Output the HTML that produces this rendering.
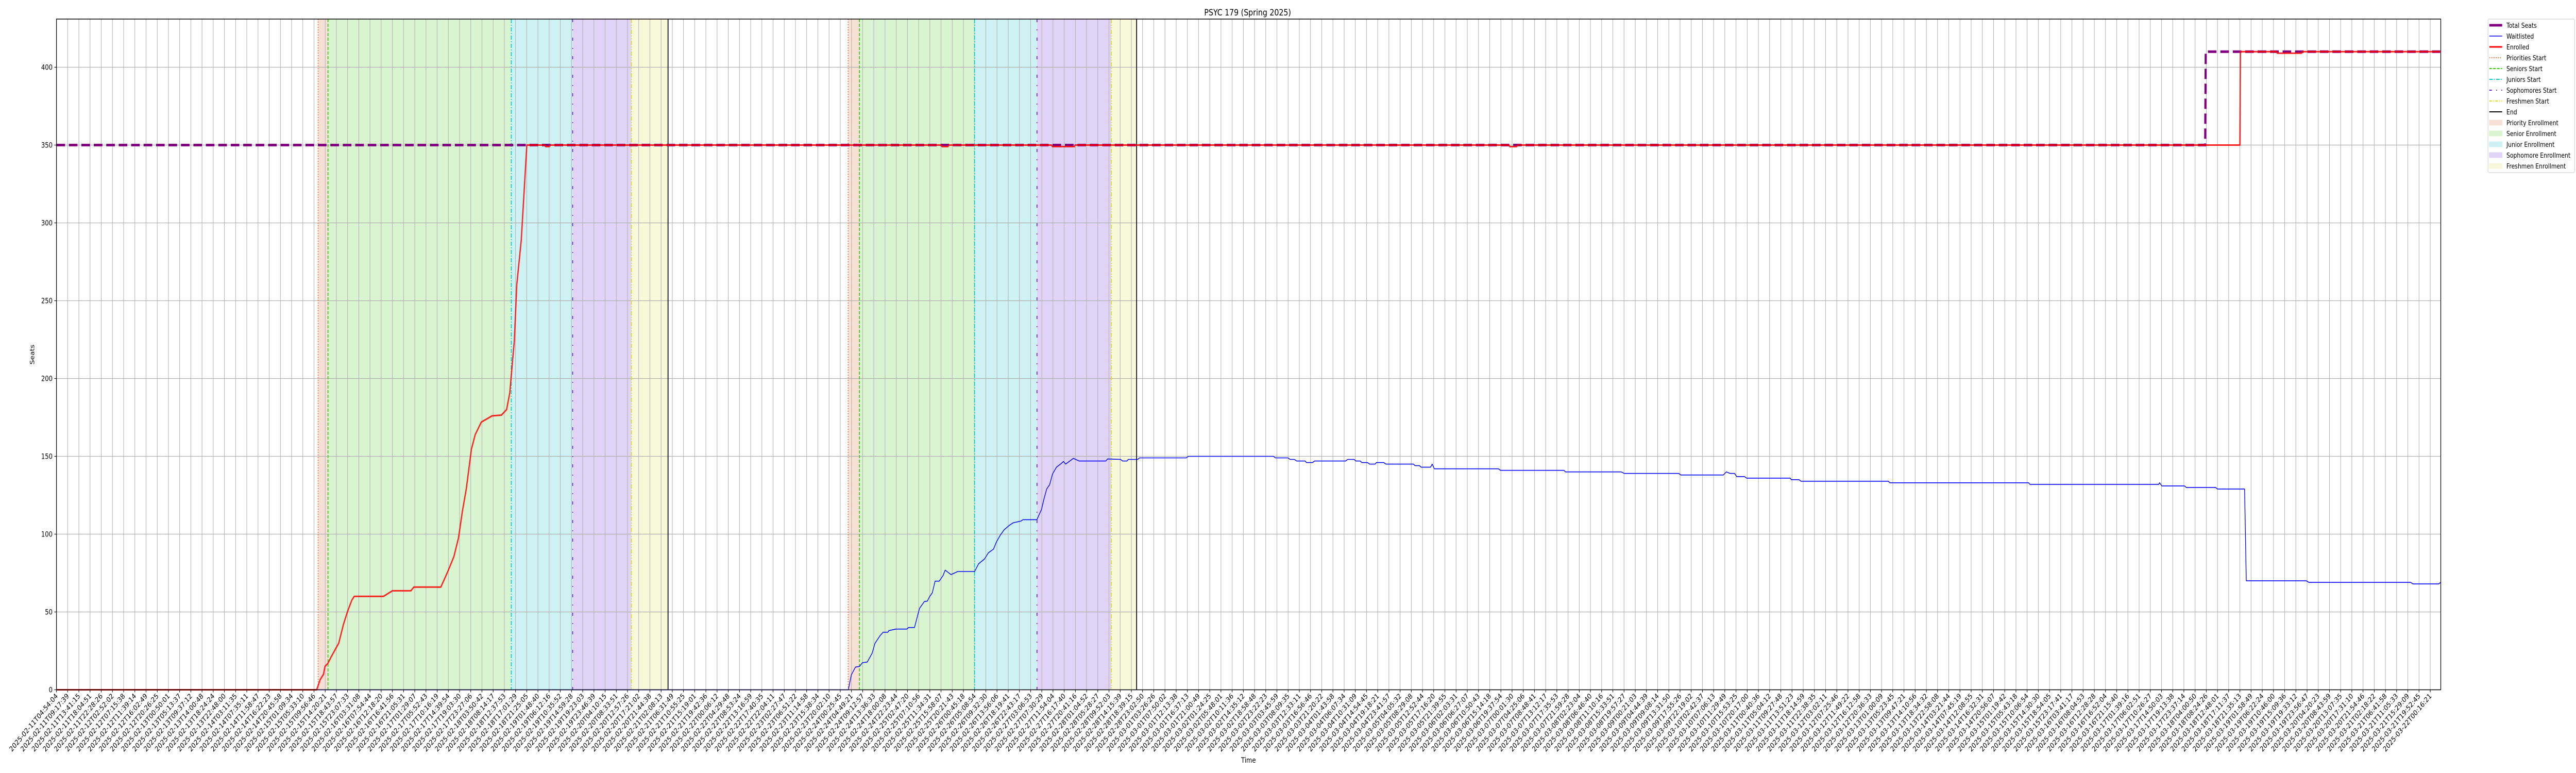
<!DOCTYPE html>
<html><head><meta charset="utf-8"><style>
html,body{margin:0;padding:0;background:#fff;width:100%;height:100%;overflow:hidden;}
svg{display:block;position:absolute;left:0;top:0;width:100vw;height:100vh;overflow:hidden;font-family:"DejaVu Sans","Liberation Sans",sans-serif;}
</style></head><body>
<svg id="chart" viewBox="0 0 6000 1500" preserveAspectRatio="none" xmlns="http://www.w3.org/2000/svg">
<rect x="0" y="0" width="6000" height="1500" fill="#fff"/>
<g id="bands"></g><g id="grid"></g><g id="vlines"></g><g id="series"></g><g id="axes"></g>
<text x="2906" y="30" font-size="17" text-anchor="middle">PSYC 179 (Spring 2025)</text>
<text x="0" y="0" font-size="14" text-anchor="middle" transform="translate(80,688) rotate(-90)">Seats</text>
<text x="2908" y="1480" font-size="14" text-anchor="middle">Time</text>
<g id="legend"></g>
</svg>
<script>
// ---- data (x in sample-index units, y in seats) ----
const yTicks = [0,50,100,150,200,250,300,350,400];
const xTickCount = 213;
const xTickLabels = [];
(function(){const s=Date.UTC(2025,1,11,4,54,4),e=Date.UTC(2025,2,22,0,16,21);
for(let i=0;i<xTickCount;i++){const d=new Date(s+(e-s)*i/(xTickCount-1));const p=n=>String(n).padStart(2,'0');
xTickLabels.push(d.getUTCFullYear()+'-'+p(d.getUTCMonth()+1)+'-'+p(d.getUTCDate())+'T'+p(d.getUTCHours())+':'+p(d.getUTCMinutes())+':'+p(d.getUTCSeconds()));}})();
const totalT = [0,191.9,191.95,212.9];
const totalV = [350,350,410,410];
const enrolledT = [0,23.24,23.56,23.85,23.98,24.24,24.52,25.21,25.63,25.98,26.38,26.59,29.20,30.00,31.65,31.92,34.33,34.95,35.49,35.91,36.25,36.60,37.06,37.40,37.94,38.90,39.74,40.20,40.49,40.70,40.89,41.11,41.51,42.01,43.58,43.7,44.0,44.1,79.0,79.1,79.6,79.7,88.86,88.95,90.9,90.97,129.7,129.8,130.4,130.5,195.0,195.05,198.25,198.35,200.5,200.56,212.9];
const enrolledV = [0,0,6.6,10,15,17,21,30,42,50,57.6,60,60,63.6,63.6,66,66,76,85.5,97.7,114.6,129,154.6,164,172,176,176.5,180,191,209,224,260,289,350,350,349,349,350,350,349,349,350,350,349,349,350,350,349,349,350,350,410,410,409,409,410,410];
const waitT = [0,70.72,70.99,71.36,71.72,71.98,72.41,72.85,73.10,73.56,73.83,74.25,74.35,74.97,75.94,76.11,76.63,76.90,77.08,77.51,77.78,77.96,78.22,78.47,78.84,79.19,79.37,79.89,80.50,82.00,82.36,82.88,83.23,83.69,83.95,84.30,84.64,85.09,85.44,86.14,86.32,87.56,87.98,88.17,88.44,88.70,88.96,89.31,89.67,89.94,90.13,90.82,91.34,93.72,93.88,95.03,95.22,95.61,95.72,96.57,96.72,100.90,101.09,108.68,108.87,109.99,110.18,110.56,110.76,111.52,111.64,112.17,112.37,115.13,115.32,115.89,116.05,116.43,116.59,117.08,117.28,117.77,117.89,118.54,118.73,121.19,121.34,121.73,121.88,122.72,122.87,123.06,128.78,128.97,134.64,134.76,139.75,140.02,144.88,145.07,148.87,149.14,149.48,149.87,150.06,150.75,150.95,154.85,154.93,155.62,155.81,163.59,163.75,176.13,176.25,187.75,187.83,188.02,190.05,190.21,192.82,193.01,195.42,195.57,200.94,201.17,210.25,210.45,212.75,212.94];
const waitV = [0,0,9.6,14.6,15,17.4,17.8,23.5,29.8,34.8,37,37,38,39,39,40,40,47.5,52.3,56.7,57,59.6,62.3,69.8,69.8,73.5,76.9,74,76,76,81,84,88,90.4,95,99.4,102.8,105.6,107.3,108.4,109.3,109.3,116,122,129,131.8,138.7,143,145,146.7,145,148.7,147,147,148.3,148,147,147,148,148,149,149,150,150,149,149,148,148,147,147,146,146,147,147,148,148,147,147,146,146,145,145,146,146,145,145,144,144,143,143,145,142,142,141,141,140,140,139,139,138,138,140,139,139,137,137,136,136,135,135,134,134,133,133,132,132,133,131,131,130,130,129,129,70,70,69,69,68,68,69];
const priorityStarts = [23.37,70.71];
const seniorStarts = [24.25,71.71];
const juniorStarts = [40.62,81.99];
const sophomoreStarts = [46.10,87.57];
const freshmenStarts = [51.35,94.21];
const ends = [54.62,96.47];

// ---- axes ----
const L=131.5,R=5685,T=37,B=1338.5,XS=26.08,YS=3.02;
const X=i=>L+i*XS, Y=v=>B-v*YS;
const NS='http://www.w3.org/2000/svg';
function mk(tag,attrs,parent){const e=document.createElementNS(NS,tag);for(const k in attrs)e.setAttribute(k,attrs[k]);parent.appendChild(e);return e;}
const gB=document.getElementById('bands'),gG=document.getElementById('grid'),gV=document.getElementById('vlines'),gS=document.getElementById('series'),gA=document.getElementById('axes'),gL=document.getElementById('legend');

const bandDefs=[[priorityStarts,seniorStarts,'#f7e0d6','priority-enrollment-band'],[seniorStarts,juniorStarts,'#daf4d2','senior-enrollment-band'],[juniorStarts,sophomoreStarts,'#cef1f3','junior-enrollment-band'],[sophomoreStarts,freshmenStarts,'#e0d3f5','sophomore-enrollment-band'],[freshmenStarts,ends,'#f8f8da','freshmen-enrollment-band']];
bandDefs.forEach(b=>{for(let k=0;k<b[0].length;k++){const r=mk('rect',{x:X(b[0][k]),y:T,width:X(b[1][k])-X(b[0][k]),height:B-T,fill:b[2]},gB);

}});

for(let i=0;i<xTickCount;i++){const l=mk('line',{x1:X(i),x2:X(i),y1:T,y2:B,stroke:'#b0b0b0','stroke-width':1.2},gG);

}
yTicks.forEach(v=>{const l=mk('line',{x1:L,x2:R,y1:Y(v),y2:Y(v),stroke:'#b0b0b0','stroke-width':1.2},gG);

});

const vDefs=[[priorityStarts,'#ff6a2a','2,3','priorities-start-line'],[seniorStarts,'#33cc00','6,3','seniors-start-line'],[juniorStarts,'#00cccc','8,3,2,3','juniors-start-line'],[sophomoreStarts,'#6622cc','6,14,2,14','sophomores-start-line'],[freshmenStarts,'#dddd22','8,3,2,3,2,3','freshmen-start-line'],[ends,'#000000','','end-line']];
vDefs.forEach(d=>d[0].forEach(t=>{const l=mk('line',{x1:X(t),x2:X(t),y1:T,y2:B,stroke:d[1],'stroke-width':2},gV);if(d[2])l.setAttribute('stroke-dasharray',d[2]);

}));

function pts(ts,vs){return ts.map((t,i)=>X(t).toFixed(1)+','+Y(vs[i]).toFixed(1)).join(' ');}
const pT=mk('polyline',{points:pts(totalT,totalV),fill:'none',stroke:'#800080','stroke-width':5,'stroke-dasharray':'20,9'},gS);


const pW=mk('polyline',{points:pts(waitT,waitV),fill:'none',stroke:'#0000ff','stroke-width':1.6,'stroke-linejoin':'round'},gS);


const pE=mk('polyline',{points:pts(enrolledT,enrolledV),fill:'none',stroke:'#ff0000','stroke-width':3,'stroke-linejoin':'round','stroke-opacity':0.85},gS);



mk('rect',{x:L,y:T,width:R-L,height:B-T,fill:'none',stroke:'#000','stroke-width':1.5},gA);
yTicks.forEach(v=>{mk('line',{x1:L-5,x2:L,y1:Y(v),y2:Y(v),stroke:'#000','stroke-width':1.2},gA);
const t=mk('text',{x:L-9,y:Y(v)+5,'font-size':14,'text-anchor':'end'},gA);t.textContent=v;

});
for(let i=0;i<xTickCount;i++){const x=X(i);mk('line',{x1:x,x2:x,y1:B,y2:B+5,stroke:'#000','stroke-width':1.2},gA);
const t=mk('text',{x:0,y:0,'font-size':14,'text-anchor':'end',transform:'translate('+(x+4)+','+(B+13)+') rotate(-45)'},gA);t.textContent=xTickLabels[i];

}

mk('rect',{x:5795,y:37,width:202,height:298,fill:'#fff',stroke:'#d0d0d0','stroke-width':1.2,rx:3},gL);
const legItems=[['Total Seats','line','#800080',5,''],['Waitlisted','line','#0000ff',1.6,''],['Enrolled','line','#ff0000',3,''],['Priorities Start','line','#ff6a2a',2,'2,3'],['Seniors Start','line','#33cc00',2,'6,3'],['Juniors Start','line','#00cccc',2,'8,3,2,3'],['Sophomores Start','line','#6622cc',2,'6,10,2,10'],['Freshmen Start','line','#dddd22',2,'6,3,2,3'],['End','line','#000',2,''],['Priority Enrollment','patch','#f7e0d6'],['Senior Enrollment','patch','#daf4d2'],['Junior Enrollment','patch','#cef1f3'],['Sophomore Enrollment','patch','#e0d3f5'],['Freshmen Enrollment','patch','#f8f8da']];
legItems.forEach((it,k)=>{const cy=49+k*21;
const g=mk('g',{},gL);


if(it[1]==='line'){const l=mk('line',{x1:5798,x2:5828,y1:cy,y2:cy,stroke:it[2],'stroke-width':it[3]},g);if(it[4])l.setAttribute('stroke-dasharray',it[4]);}
else{mk('rect',{x:5798,y:cy-5,width:30,height:10,fill:it[2],stroke:it[2]},g);}
const t=mk('text',{x:5838,y:cy+5,'font-size':13},g);t.textContent=it[0];});
</script>
</body></html>
